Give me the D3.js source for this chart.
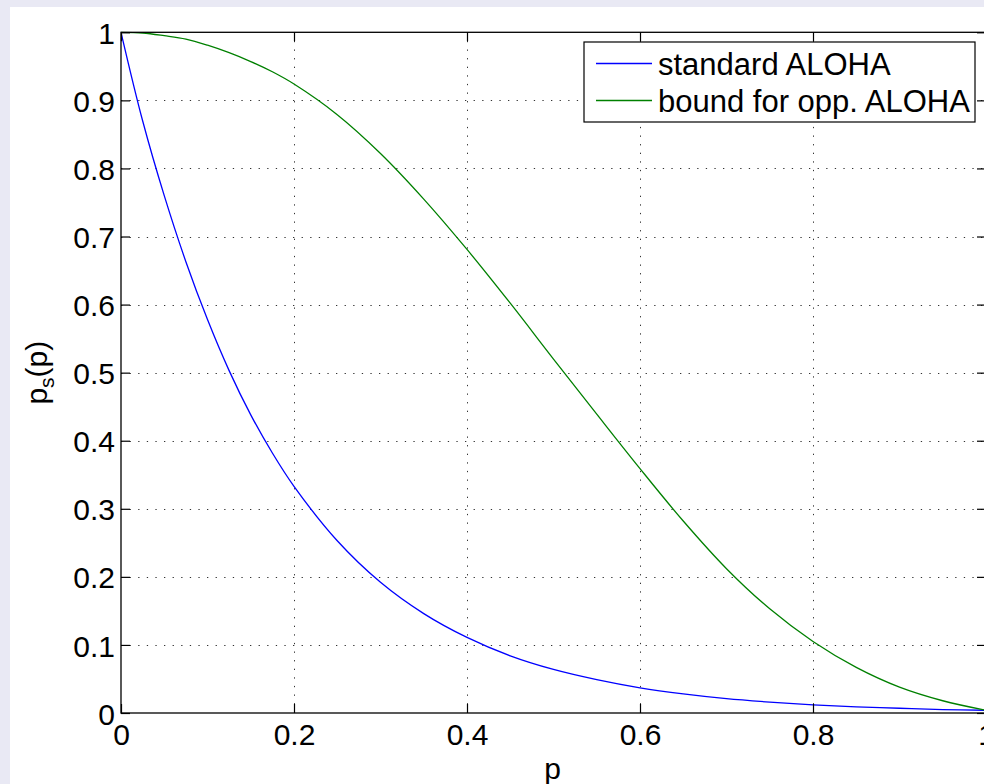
<!DOCTYPE html>
<html>
<head>
<meta charset="utf-8">
<script src="https://cdn.jsdelivr.net/npm/d3@7"></script>
<style>
  html, body { margin: 0; padding: 0; background: #e9e9f4; overflow: hidden; }
  svg { display: block; font-family: "Liberation Sans", Arial, Helvetica, sans-serif; }
</style>
</head>
<body>
<div id="chart"></div>
<script>
// sample points
const pValues = [0, 0.025, 0.05, 0.075, 0.1, 0.125, 0.15, 0.175, 0.2, 0.25, 0.3, 0.35,
  0.4, 0.45, 0.5, 0.55, 0.6, 0.65, 0.7, 0.75, 0.8, 0.85, 0.9, 0.95, 1];
const standardAloha = [1, 0.87, 0.76, 0.663, 0.578, 0.503, 0.438, 0.382, 0.333, 0.253, 0.192, 0.146,
  0.111, 0.084, 0.064, 0.049, 0.037, 0.028, 0.021, 0.016, 0.012, 0.009, 0.007, 0.005, 0.004];
const oppAlohaBound = [1, 0.999, 0.995, 0.99, 0.981, 0.97, 0.957, 0.942, 0.924, 0.879, 0.822, 0.755,
  0.681, 0.602, 0.52, 0.439, 0.359, 0.282, 0.212, 0.153, 0.105, 0.067, 0.038, 0.018, 0.004];
const seriesNames = ['standard ALOHA', 'bound for opp. ALOHA'];
const seriesColors = ['#0000ff', '#008000'];
const xTicks = [0, 0.2, 0.4, 0.6, 0.8, 1];
const yTicks = [0, 0.1, 0.2, 0.3, 0.4, 0.5, 0.6, 0.7, 0.8, 0.9, 1];

const W = 984, H = 784;
const plot = { left: 121, right: 986, top: 32.3, bottom: 713 };

const svg = d3.select('#chart')
  .append('svg')
  .attr('width', W)
  .attr('height', H);

// white figure panel
svg.append('rect')
  .attr('x', 10).attr('y', 7)
  .attr('width', W).attr('height', H)
  .attr('fill', '#fff');

const x = d3.scaleLinear().domain([0, 1]).range([plot.left, plot.right]);
const y = d3.scaleLinear().domain([0, 1]).range([plot.bottom, plot.top]);

svg.append('defs').append('clipPath').attr('id', 'clip')
  .append('rect')
  .attr('x', plot.left).attr('y', plot.top - 1)
  .attr('width', plot.right - plot.left).attr('height', plot.bottom - plot.top + 2);

// dotted grid
const grid = svg.append('g')
  .attr('stroke', '#333')
  .attr('stroke-width', 1)
  .attr('stroke-dasharray', '1.3,7.3');
grid.selectAll('line.gx')
  .data(xTicks.slice(1, -1))
  .enter()
  .append('line')
    .attr('x1', (d) => Math.round(x(d)) + 0.5)
    .attr('x2', (d) => Math.round(x(d)) + 0.5)
    .attr('y1', plot.top)
    .attr('y2', plot.bottom);
grid.selectAll('line.gy')
  .data(yTicks.slice(1, -1))
  .enter()
  .append('line')
    .attr('x1', plot.left)
    .attr('x2', plot.right)
    .attr('y1', (d) => Math.round(y(d)) + 0.5)
    .attr('y2', (d) => Math.round(y(d)) + 0.5);

// curves
const line = d3.line()
  .x((d) => x(d[0]))
  .y((d) => y(d[1]))
  .curve(d3.curveCatmullRom.alpha(0.5));

[standardAloha, oppAlohaBound].forEach((vals, i) => {
  svg.append('path')
    .datum(pValues.map((p, j) => [p, vals[j]]))
    .attr('clip-path', 'url(#clip)')
    .attr('fill', 'none')
    .attr('stroke', seriesColors[i])
    .attr('stroke-width', 1.3)
    .attr('d', line);
});

// axes: ticks inside, on all four sides
const tickLen = 9;
const axisG = svg.append('g').attr('font-size', 30).attr('fill', '#000');

axisG.append('g')
  .attr('transform', `translate(0,${plot.bottom})`)
  .call(d3.axisBottom(x).tickValues(xTicks).tickSize(-tickLen).tickPadding(tickLen + 23).tickFormat(d3.format('')))
  .call((g) => g.select('.domain').remove())
  .call((g) => g.selectAll('text').attr('font-size', 30).attr('font-family', 'Liberation Sans, Arial, sans-serif').attr('dy', 0));

axisG.append('g')
  .attr('transform', `translate(${plot.left},0)`)
  .call(d3.axisLeft(y).tickValues(yTicks).tickSize(-tickLen).tickPadding(6).tickFormat(d3.format('')))
  .call((g) => g.select('.domain').remove())
  .call((g) => g.selectAll('text').attr('font-size', 30).attr('font-family', 'Liberation Sans, Arial, sans-serif').attr('dy', '0.37em'));

axisG.append('g')
  .attr('transform', `translate(0,${plot.top})`)
  .call(d3.axisTop(x).tickValues(xTicks).tickSize(-tickLen).tickFormat(''))
  .call((g) => g.select('.domain').remove());

axisG.append('g')
  .attr('transform', `translate(${plot.right},0)`)
  .call(d3.axisRight(y).tickValues(yTicks).tickSize(-tickLen).tickFormat(''))
  .call((g) => g.select('.domain').remove());

axisG.selectAll('.tick line').attr('stroke', '#000').attr('stroke-width', 1.2);

// axes box
svg.append('rect')
  .attr('x', plot.left).attr('y', plot.top)
  .attr('width', plot.right - plot.left).attr('height', plot.bottom - plot.top)
  .attr('fill', 'none')
  .attr('stroke', '#000')
  .attr('stroke-width', 1.3);

// axis labels
svg.append('text')
  .attr('x', (plot.left + plot.right) / 2 - 1)
  .attr('y', 779)
  .attr('text-anchor', 'middle')
  .attr('font-size', 30)
  .text('p');

const yl = svg.append('text')
  .attr('transform', `translate(47,${(plot.top + plot.bottom) / 2}) rotate(-90)`)
  .attr('text-anchor', 'middle')
  .attr('font-size', 30);
yl.append('tspan').text('p');
yl.append('tspan').attr('font-size', 21).attr('dy', 7).text('s');
yl.append('tspan').attr('dy', -7).text('(p)');

// legend
const legend = svg.append('g').attr('transform', 'translate(584,42)');
legend.append('rect')
  .attr('width', 391).attr('height', 80)
  .attr('fill', '#fff')
  .attr('stroke', '#000')
  .attr('stroke-width', 1.2);
seriesNames.forEach((name, i) => {
  const row = legend.append('g').attr('transform', `translate(0,${21.5 + i * 37})`);
  row.append('line')
    .attr('x1', 12).attr('x2', 68)
    .attr('y1', 0).attr('y2', 0)
    .attr('stroke', seriesColors[i])
    .attr('stroke-width', 1.3);
  row.append('text')
    .attr('x', 74)
    .attr('y', 11)
    .attr('font-size', 31)
    .text(name);
});
</script>
</body>
</html>
